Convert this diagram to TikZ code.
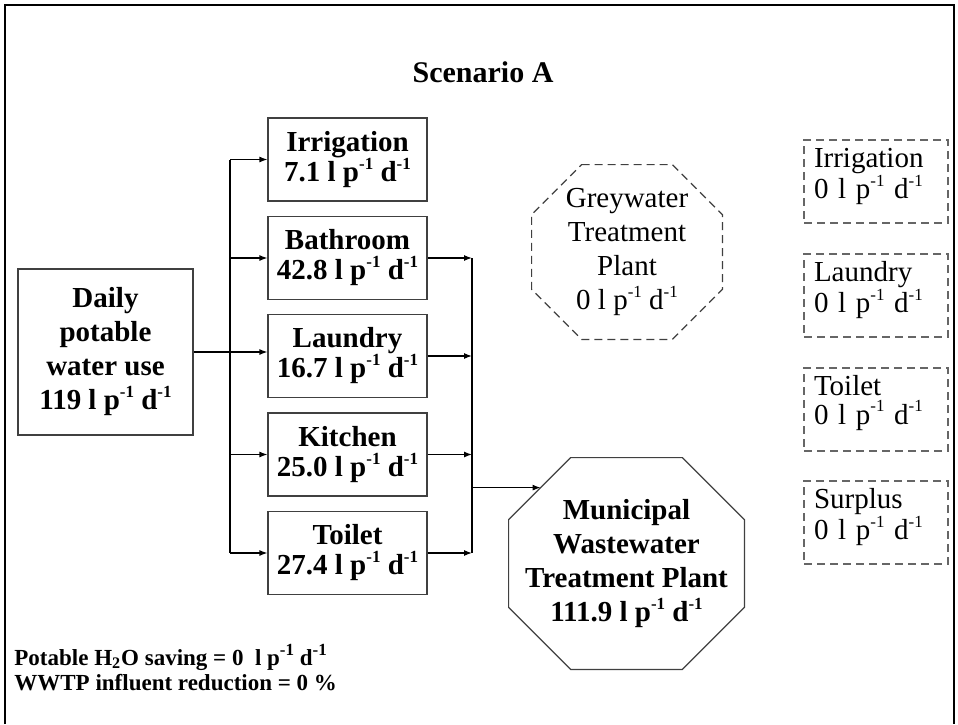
\documentclass[tikz,border=0pt]{standalone}
\usepackage{fontspec}
\setmainfont{Liberation Serif}
\newcommand{\sups}[1]{\raisebox{0.42em}{\fontsize{8.5}{8.5}\selectfont #1}}
\newcommand{\lpd}{l p\sups{-1} d\sups{-1}}
% octagon with corners cut by #3 round the node #2
\newcommand{\octa}[3][]{\draw[#1] ([xshift=#3]#2.north west) -- ([xshift=-#3]#2.north east)
  -- ([yshift=-#3]#2.north east) -- ([yshift=#3]#2.south east) -- ([xshift=-#3]#2.south east)
  -- ([xshift=#3]#2.south west) -- ([yshift=#3]#2.south west) -- ([yshift=-#3]#2.north west) -- cycle;}
\tikzset{>=stealth}
\usetikzlibrary{arrows.meta}
\tikzset{
  use/.style={draw=black!75, line width=0.6pt, align=center, inner sep=1pt,
    minimum width=79.5pt, minimum height=41.5pt,
    font=\fontsize{14.5}{15}\selectfont\bfseries},
  reuse/.style={draw=black!60, line width=0.6pt, dash pattern=on 4pt off 2.5pt,
    align=left, text width=62pt, inner xsep=5pt, inner ysep=0pt,
    text height=13.5pt, text depth=28pt, font=\fontsize{14.5}{14.5}\selectfont},
  plant/.style={align=center, inner sep=0pt},
  flow/.style={-{Latex[length=4pt,width=3pt]}, line width=0.6pt},
  bus/.style={line width=0.6pt},
  summary/.style={anchor=base west, inner sep=0pt, font=\fontsize{11.5}{13}\selectfont\bfseries}
}

\begin{document}
\begin{tikzpicture}[x=0.5pt,y=-0.5pt]
        \useasboundingbox (0,0) rectangle (958,724);
        % Frame and title
        \draw[line width=1pt] (5,724) -- (5,5) -- (954,5) -- (954,724);
        \node[font=\fontsize{15}{17}\selectfont\bfseries] (title) at (483,72) {Scenario A};

        % Potable supply and household uses
        \node[use, minimum width=87.5pt, minimum height=83pt, font=\fontsize{14.5}{17}\selectfont\bfseries]
            (daily) at (105.5,352) {Daily\\potable\\water use\\119 \lpd};
        \node[use] (irr) at (347.5,159.5) {Irrigation\\7.1 \lpd};
        \node[use] (bath) at (347.5,258) {Bathroom\\42.8 \lpd};
        \node[use] (laundry) at (347.5,356) {Laundry\\16.7 \lpd};
        \node[use] (kitchen) at (347.5,454.5) {Kitchen\\25.0 \lpd};
        \node[use] (toilet) at (347.5,553) {Toilet\\27.4 \lpd};

        % Treatment plants
        \node[plant, minimum width=95pt, minimum height=87pt, font=\fontsize{14.5}{17}\selectfont]
            (grey) at (627,252) {Greywater\\Treatment\\Plant\\0 \lpd};
        \octa[draw=black!75, line width=0.6pt, dash pattern=on 4pt off 2.5pt]{grey}{25pt}
        \node[plant, minimum width=117.5pt, minimum height=105.5pt, font=\fontsize{14.5}{17}\selectfont\bfseries]
            (mwtp) at (626.5,563.5) {Municipal\\Wastewater\\Treatment Plant\\111.9 \lpd};
        \octa[draw=black!75, line width=0.6pt]{mwtp}{31pt}
        \coordinate (mwtpin) at ([xshift=16pt,yshift=-15pt]mwtp.north west);

        % Greywater reuse
        \node[reuse] (rirr) at (876,181.5) {Irrigation\\0 \lpd};
        \node[reuse] (rlaundry) at (876,295.5) {Laundry\\0 \lpd};
        \node[reuse] (rtoilet) at (876,409.5) {Toilet\\0 \lpd};
        \node[reuse] (rsurplus) at (876,522.5) {Surplus\\0 \lpd};

        % Connectors
        \coordinate (busL) at (230,0);
        \coordinate (busR) at (472,0);
        \draw[bus] (busL |- irr) -- (busL |- toilet);
        \draw[flow] (daily.east) -- (daily.east -| laundry.west);
        \foreach \b in {irr, bath, kitchen, toilet}
            \draw[flow] (busL |- \b.west) -- (\b.west);
        \foreach \b in {bath, laundry, kitchen, toilet}
            \draw[flow] (\b.east) -- (busR |- \b.east);
        \draw[bus] (busR |- bath) -- (busR |- toilet);
        \draw[flow] (busR |- mwtpin) -- (mwtpin);

        % Summary
        \node[summary] (saving) at (14,665) {Potable H\textsubscript{2}O saving = 0~ \lpd};
        \node[summary] (reduction) at (14,690) {WWTP influent reduction = 0 \%};
\end{tikzpicture}
\end{document}
